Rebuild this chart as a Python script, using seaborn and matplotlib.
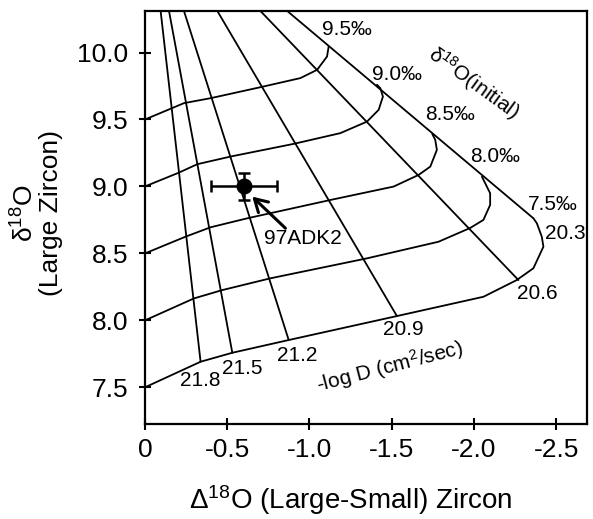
import pandas as pd
import matplotlib
matplotlib.use('Agg')
import matplotlib.pyplot as plt
import seaborn as sns

# iso-d18O(initial) curves (Delta18O, d18O large)
d95_x = [0, -0.237, -0.399, -0.702, -0.945, -1.047, -1.107, -1.117]
d95_y = [9.5, 9.622, 9.659, 9.741, 9.809, 9.871, 9.970, 10.045]
d90_x = [0, -0.206, -0.318, -0.520, -0.905, -1.188, -1.350, -1.421, -1.447, -1.431, -1.411]
d90_y = [9.0, 9.103, 9.166, 9.223, 9.318, 9.398, 9.484, 9.572, 9.671, 9.734, 9.759]
d85_x = [0, -0.247, -0.399, -0.622, -1.128, -1.512, -1.664, -1.735, -1.775, -1.765, -1.747]
d85_y = [8.5, 8.625, 8.695, 8.762, 8.899, 8.999, 9.086, 9.148, 9.273, 9.348, 9.392]
d80_x = [0, -0.298, -0.470, -0.763, -1.350, -1.785, -1.978, -2.058, -2.099, -2.099, -2.049]
d80_y = [8.0, 8.164, 8.226, 8.314, 8.463, 8.587, 8.690, 8.750, 8.862, 8.949, 9.073]
d75_x = [0, -0.338, -0.531, -0.874, -1.532, -2.058, -2.261, -2.362, -2.423, -2.413, -2.383, -2.362]
d75_y = [7.5, 7.691, 7.758, 7.853, 8.032, 8.176, 8.301, 8.389, 8.550, 8.625, 8.725, 8.762]
delta_labels = ['9.5‰', '9.0‰', '8.5‰', '8.0‰', '7.5‰']

# iso -log D lines (top end at the upper axis edge, bottom end labelled)
logd_labels = ['21.8', '21.5', '21.2', '20.9', '20.6', '20.3']
logd_top_x = [-0.095, -0.146, -0.237, -0.440, -0.702, -0.865]
logd_top_y = [10.31, 10.31, 10.31, 10.31, 10.31, 10.31]
logd_bot_x = [-0.338, -0.531, -0.874, -1.532, -2.271, -2.362]
logd_bot_y = [7.691, 7.758, 7.853, 8.032, 8.301, 8.762]

# sample 97ADK2
sample_x = [-0.60]
sample_y = [9.0]
sample_xerr = [0.2]
sample_yerr = [0.1]

xticks = [0, -0.5, -1.0, -1.5, -2.0, -2.5]
xtick_labels = ['0', '-0.5', '-1.0', '-1.5', '-2.0', '-2.5']
yticks = [7.5, 8.0, 8.5, 9.0, 9.5, 10.0]
ytick_labels = ['7.5', '8.0', '8.5', '9.0', '9.5', '10.0']

# long-form table for seaborn
rows = []
for name, xs, ys in zip(delta_labels, [d95_x, d90_x, d85_x, d80_x, d75_x],
                        [d95_y, d90_y, d85_y, d80_y, d75_y]):
    for x, y in zip(xs, ys):
        rows.append({'curve': 'd' + name, 'x': x, 'y': y})
for name, x0, y0, x1, y1 in zip(logd_labels, logd_top_x, logd_top_y, logd_bot_x, logd_bot_y):
    rows.append({'curve': 'D' + name, 'x': x0, 'y': y0})
    rows.append({'curve': 'D' + name, 'x': x1, 'y': y1})
grid = pd.DataFrame(rows)

sns.set_style('ticks')
plt.rcParams['font.family'] = ['Liberation Sans', 'DejaVu Sans']
plt.rcParams['mathtext.fontset'] = 'custom'
plt.rcParams['mathtext.rm'] = 'Liberation Sans'
plt.rcParams['mathtext.it'] = 'Liberation Sans:italic'
plt.rcParams['axes.unicode_minus'] = False
for k in ['text.color', 'axes.labelcolor', 'xtick.color', 'ytick.color', 'axes.edgecolor']:
    plt.rcParams[k] = 'black'

fig = plt.figure(figsize=(5.93, 5.19), dpi=100)
ax = fig.add_axes([145 / 593, 95 / 519, 442 / 593, 413 / 519])

sns.lineplot(data=grid, x='x', y='y', units='curve', estimator=None, sort=False,
             color='black', lw=1.3, ax=ax, legend=False)

ax.errorbar(sample_x, sample_y, xerr=sample_xerr, yerr=sample_yerr, fmt='o',
            color='black', ms=10.5, elinewidth=1.8, capsize=4.5, capthick=1.8, zorder=5)
ax.annotate('', xy=(-0.652, 8.924), xytext=(-0.854, 8.688),
            arrowprops=dict(arrowstyle='->,head_length=0.6,head_width=0.35', lw=2.2,
                            color='black', shrinkA=0, shrinkB=0, mutation_scale=15))
ax.text(-0.96, 8.61, '97ADK2', fontsize=15, ha='center', va='center')

# curve labels
delta_lab_x = [-1.229, -1.532, -1.856, -2.129, -2.483]
delta_lab_y = [10.17, 9.833, 9.534, 9.223, 8.862]
for t, x, y in zip(delta_labels, delta_lab_x, delta_lab_y):
    ax.text(x, y, t, fontsize=15, ha='center', va='center')
logd_lab_x = [-0.338, -0.591, -0.925, -1.573, -2.383, -2.554]
logd_lab_y = [7.554, 7.641, 7.741, 7.928, 8.202, 8.650]
for t, x, y in zip(logd_labels, logd_lab_x, logd_lab_y):
    ax.text(x, y, t, fontsize=15, ha='center', va='center')

ax.text(-1.492, 7.653, '-log D (cm$^2$/sec)', fontsize=15, rotation=14.5,
        ha='center', va='center', rotation_mode='anchor')
ax.text(-1.998, 9.771, 'δ$^{18}$O(initial)', fontsize=15, rotation=-36,
        ha='center', va='center', rotation_mode='anchor')

ax.set_xlim(0, -2.688)
ax.set_ylim(7.226, 10.31)
ax.set_xticks(xticks)
ax.set_xticklabels(xtick_labels)
ax.set_yticks(yticks)
ax.set_yticklabels(ytick_labels)
ax.tick_params(direction='inout', length=8, width=1.5, labelsize=19, colors='black')
ax.tick_params(axis='x', pad=6)
ax.tick_params(axis='y', pad=8)
for s in ax.spines.values():
    s.set_linewidth(1.6)
    s.set_color('black')
    s.set_visible(True)

ax.set_xlabel('Δ$^{18}$O (Large-Small) Zircon', fontsize=20)
ax.set_ylabel('δ$^{18}$O\n(Large Zircon)', fontsize=19, linespacing=1.0)
ax.xaxis.set_label_coords(0.466, -0.143)
ax.yaxis.set_label_coords(-0.186, 0.51)

fig.savefig('out.png', dpi=100)
